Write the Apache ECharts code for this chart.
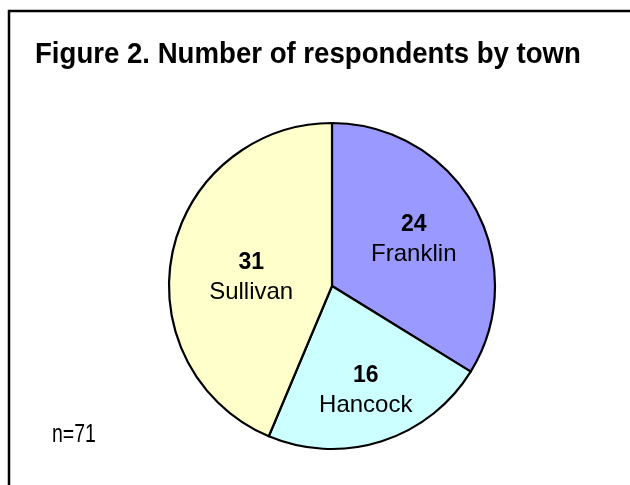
<!DOCTYPE html>
<html>
<head>
<meta charset="utf-8">
<script src="https://cdn.jsdelivr.net/npm/echarts@6/dist/echarts.min.js"></script>
<style>
  html, body { margin: 0; padding: 0; background: #fff; }
  #chart { width: 630px; height: 485px; }
</style>
</head>
<body>
<div id="chart"></div>
<script>
const towns = ['Franklin', 'Hancock', 'Sullivan']
const counts = [24, 16, 31]
const sliceColors = ['#9999ff', '#ccffff', '#ffffcc']
const totalN = 71
const titleText = 'Figure 2. Number of respondents by town'

const font = '"Liberation Sans", Arial, sans-serif'

// nudges so each label sits where the original placed it
const labelOffsets = [[8, -5], [8, 24], [2, 8]]

const chart = echarts.init(document.getElementById('chart'))

chart.setOption({
  backgroundColor: '#ffffff',
  animation: false,
  graphic: [
    {
      type: 'rect',
      shape: { x: 9, y: 11, width: 700, height: 600 },
      style: { fill: null, stroke: '#000', lineWidth: 2.5 },
      silent: true
    },
    {
      // title, squeezed a bit to look like a narrow face
      type: 'text',
      x: 35,
      y: 40,
      scaleX: 0.92,
      style: {
        text: titleText,
        fontFamily: font,
        fontSize: 30,
        fontWeight: 'bold',
        fill: '#000'
      }
    },
    {
      type: 'text',
      x: 52,
      y: 423,
      scaleX: 0.78,
      style: {
        text: 'n=' + totalN,
        fontFamily: font,
        fontSize: 25,
        fill: '#000'
      }
    }
  ],
  series: [
    {
      type: 'pie',
      center: [332, 286],
      radius: 163,
      startAngle: 90,
      clockwise: true,
      data: towns.map((t, i) => ({
        name: t,
        value: counts[i],
        itemStyle: { color: sliceColors[i] },
        label: { offset: labelOffsets[i] }
      })),
      itemStyle: { borderColor: '#000', borderWidth: 2.2 },
      label: {
        position: 'inside',
        formatter: '{v|{c}}\n{n|{b}}',
        rich: {
          v: { fontFamily: font, fontSize: 23, fontWeight: 'bold', color: '#000', lineHeight: 30 },
          n: { fontFamily: font, fontSize: 24, color: '#000', lineHeight: 30 }
        }
      },
      labelLine: { show: false },
      emphasis: { disabled: true }
    }
  ]
})
</script>
</body>
</html>
